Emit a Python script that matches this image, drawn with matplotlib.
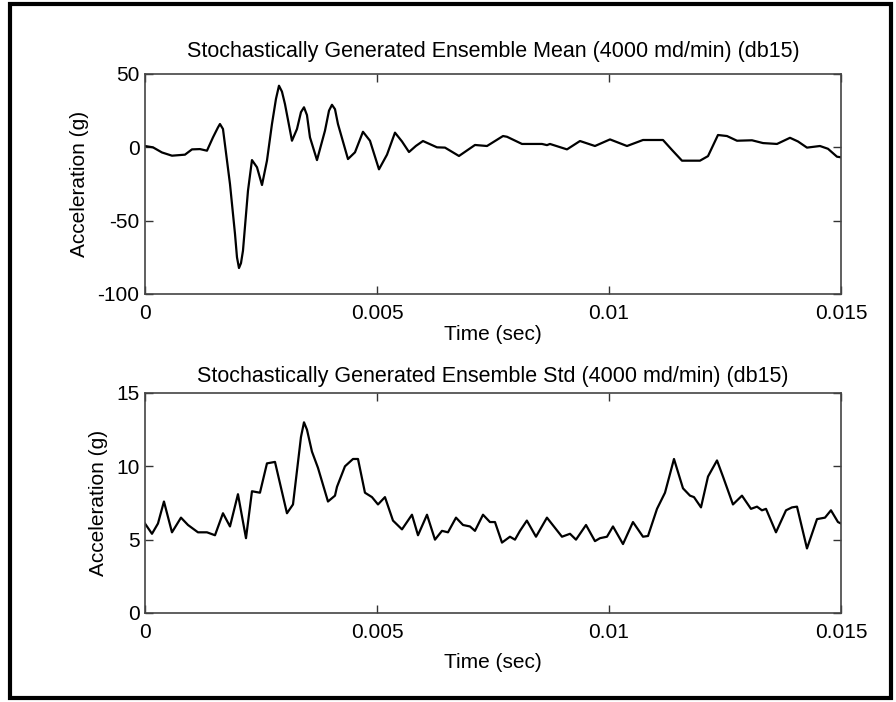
import matplotlib.pyplot as plt
from matplotlib.patches import Rectangle
import numpy as np

plt.rcParams['font.family'] = ['Liberation Sans', 'DejaVu Sans']
plt.rcParams['axes.unicode_minus'] = False

# ensemble mean (time in ms, acceleration in g)
mean_t_ms = [0.000, 0.172, 0.366, 0.582, 0.862, 1.013, 1.185, 1.336, 1.466, 1.572,
             1.616, 1.681, 1.832, 1.940, 1.983, 2.026, 2.069, 2.112, 2.220, 2.306,
             2.414, 2.522, 2.629, 2.737, 2.823, 2.888, 2.952, 3.017, 3.168, 3.276,
             3.362, 3.427, 3.491, 3.556, 3.707, 3.879, 3.966, 4.030, 4.095, 4.159,
             4.375, 4.526, 4.698, 4.849, 5.043, 5.216, 5.388, 5.539, 5.690, 5.841,
             5.991, 6.293, 6.466, 6.767, 7.112, 7.371, 7.716, 7.802, 8.125, 8.556,
             8.664, 8.728, 9.095, 9.375, 9.698, 10.022, 10.388, 10.733, 11.164, 11.358,
             11.573, 11.961, 12.134, 12.349, 12.543, 12.759, 13.082, 13.319, 13.621, 13.901,
             14.073, 14.267, 14.547, 14.720, 14.914, 15.000]
mean_acc = [0.9, 0.0, -3.5, -5.7, -5.0, -1.4, -1.2, -2.3, 6.8, 13.5,
            15.9, 12.5, -25.0, -59.0, -75.0, -82.3, -79.0, -70.5, -29.6, -8.7,
            -13.6, -25.7, -9.1, 15.9, 33.0, 42.0, 38.0, 29.5, 4.5, 12.5,
            24.0, 27.3, 22.0, 6.8, -8.7, 11.3, 25.0, 29.0, 26.0, 15.9,
            -8.0, -3.4, 10.6, 4.5, -15.0, -5.0, 10.0, 4.0, -3.2, 1.0,
            4.3, 0.0, -0.2, -5.9, 1.6, 0.9, 7.7, 7.2, 2.3, 2.3,
            1.5, 2.3, -1.4, 4.3, 0.9, 5.4, 0.9, 5.0, 5.0, -1.8,
            -9.1, -9.1, -6.0, 8.4, 7.7, 4.5, 4.8, 2.9, 2.3, 6.5,
            4.0, -0.2, 0.9, -1.0, -6.4, -6.8]

# ensemble std
std_t_ms = [0.000, 0.151, 0.280, 0.409, 0.582, 0.776, 0.927, 1.142, 1.336, 1.509,
            1.681, 1.832, 2.004, 2.177, 2.306, 2.478, 2.629, 2.802, 3.060, 3.190,
            3.362, 3.427, 3.491, 3.599, 3.728, 3.944, 4.095, 4.138, 4.310, 4.483,
            4.591, 4.741, 4.892, 5.022, 5.172, 5.345, 5.539, 5.754, 5.884, 6.078,
            6.250, 6.401, 6.530, 6.703, 6.854, 7.004, 7.112, 7.285, 7.435, 7.543,
            7.694, 7.866, 7.974, 8.082, 8.230, 8.427, 8.663, 8.987, 9.160, 9.289,
            9.505, 9.698, 9.806, 9.957, 10.086, 10.302, 10.517, 10.733, 10.841, 11.035,
            11.207, 11.401, 11.595, 11.746, 11.832, 11.983, 12.134, 12.328, 12.457, 12.672,
            12.866, 13.060, 13.190, 13.297, 13.384, 13.599, 13.815, 13.944, 14.052, 14.267,
            14.483, 14.655, 14.784, 14.935, 15.000]
std_acc = [6.1, 5.4, 6.1, 7.6, 5.5, 6.5, 6.0, 5.5, 5.5, 5.3,
           6.8, 5.9, 8.1, 5.1, 8.3, 8.2, 10.2, 10.3, 6.8, 7.4,
           12.0, 13.0, 12.5, 11.0, 9.9, 7.6, 8.0, 8.6, 10.0, 10.5,
           10.5, 8.2, 7.9, 7.4, 7.9, 6.3, 5.7, 6.7, 5.3, 6.7,
           5.0, 5.6, 5.5, 6.5, 6.0, 5.9, 5.6, 6.7, 6.2, 6.2,
           4.8, 5.2, 5.0, 5.6, 6.3, 5.2, 6.5, 5.2, 5.4, 5.0,
           6.0, 4.9, 5.1, 5.2, 5.9, 4.7, 6.2, 5.2, 5.25, 7.1,
           8.2, 10.5, 8.5, 8.0, 7.9, 7.2, 9.3, 10.4, 9.3, 7.4,
           8.0, 7.1, 7.25, 7.0, 7.1, 5.5, 7.0, 7.2, 7.25, 4.4,
           6.4, 6.5, 7.0, 6.2, 6.1]

x_ticks = [0, 0.005, 0.01, 0.015]
x_ticklabels = ['0', '0.005', '0.01', '0.015']
mean_yticks = [-100, -50, 0, 50]
std_yticks = [0, 5, 10, 15]

fig = plt.figure(figsize=(8.96, 7.02), dpi=100)
ax1 = fig.add_axes([0.1618, 0.5812, 0.7768, 0.3134])
ax2 = fig.add_axes([0.1618, 0.1268, 0.7768, 0.3134])

panels = [
    (ax1, mean_t_ms, mean_acc, (-100, 50), mean_yticks, 2, 12,
     'Stochastically Generated Ensemble Mean (4000 md/min) (db15)'),
    (ax2, std_t_ms, std_acc, (0, 15), std_yticks, 8, 8,
     'Stochastically Generated Ensemble Std (4000 md/min) (db15)'),
]

for ax, t_ms, acc, ylim, yticks, xpad, tpad, title in panels:
    ax.plot(np.array(t_ms) / 1000.0, acc, color='black', lw=1.6)
    ax.set_xlim(0, 0.015)
    ax.set_ylim(*ylim)
    ax.set_xticks(x_ticks)
    ax.set_xticklabels(x_ticklabels)
    ax.set_yticks(yticks)
    ax.tick_params(direction='in', top=True, right=True, length=6, width=1,
                   color='#333333', labelsize=15)
    ax.tick_params(axis='x', pad=7)
    ax.tick_params(axis='y', pad=4)
    for s in ax.spines.values():
        s.set_color('#444444')
        s.set_linewidth(1.2)
    ax.set_title(title, fontsize=15.5, pad=tpad)
    ax.set_xlabel('Time (sec)', fontsize=15, labelpad=xpad)
    ax.set_ylabel('Acceleration (g)', fontsize=15, labelpad=6)

# black frame around the whole picture
fig.patches.append(Rectangle((9.5 / 896, 4 / 702), 881 / 896, 694 / 702,
                             transform=fig.transFigure, fill=False,
                             edgecolor='black', lw=3))

fig.savefig('out.png', dpi=100)
